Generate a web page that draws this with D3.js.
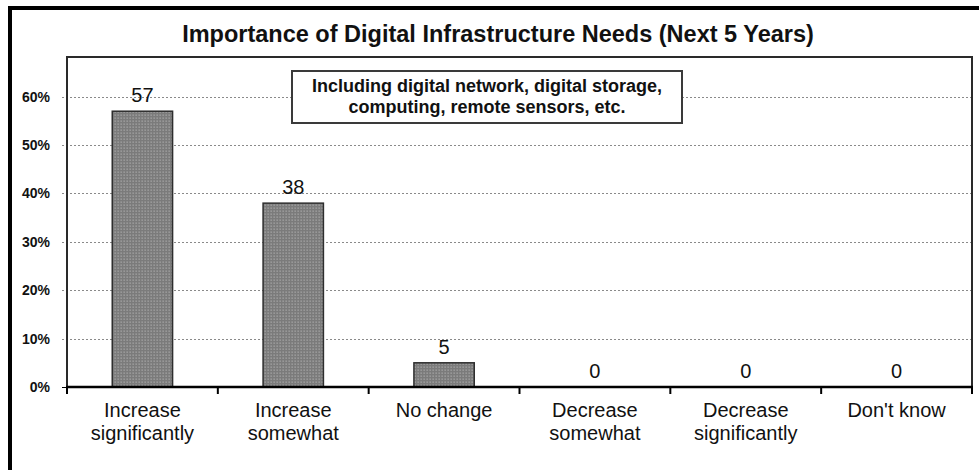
<!DOCTYPE html>
<html>
<head>
<meta charset="utf-8">
<script src="https://cdn.jsdelivr.net/npm/d3@7"></script>
<style>
  html, body { margin: 0; padding: 0; background: #fff; }
  svg { display: block; font-family: "Liberation Sans", Arial, sans-serif; }
</style>
</head>
<body>
<svg id="chart" width="979" height="470"></svg>
<script>
// Survey responses (percent of respondents)
const categories = [
  ["Increase", "significantly"],
  ["Increase", "somewhat"],
  ["No change"],
  ["Decrease", "somewhat"],
  ["Decrease", "significantly"],
  ["Don't know"]
];
const values = [57, 38, 5, 0, 0, 0];
const yTicks = [0, 10, 20, 30, 40, 50, 60];
const titleText = "Importance of Digital Infrastructure Needs (Next 5 Years)";
const noteLines = ["Including digital network, digital storage,", "computing, remote sensors, etc."];

const svg = d3.select("#chart");

// Plot frame
const plot = { left: 67, right: 972, top: 57, bottom: 387 };

const x = d3.scaleBand()
  .domain(d3.range(categories.length))
  .range([plot.left, plot.right])
  .paddingInner(0)
  .paddingOuter(0);

const y = d3.scaleLinear()
  .domain([0, 60])
  .range([plot.bottom, 96.7]);

// Dotted fill for the bars
const defs = svg.append("defs");
const pat = defs.append("pattern")
  .attr("id", "dots")
  .attr("patternUnits", "userSpaceOnUse")
  .attr("width", 3).attr("height", 3);
pat.append("rect").attr("width", 3).attr("height", 3).attr("fill", "#7b7b7b");
pat.append("rect").attr("x", 0.5).attr("y", 0.5).attr("width", 1.3).attr("height", 1.3).attr("fill", "#a9a9a9");

// Outer border
svg.append("rect")
  .attr("x", 10).attr("y", 8)
  .attr("width", 1000).attr("height", 500)
  .attr("fill", "#fff")
  .attr("stroke", "#000")
  .attr("stroke-width", 4);

// Title
svg.append("text")
  .attr("x", 498).attr("y", 42)
  .attr("text-anchor", "middle")
  .attr("font-weight", "bold")
  .attr("font-size", 23.5)
  .attr("fill", "#111")
  .text(titleText);

// Horizontal gridlines (dotted), starting just left of the axis
svg.append("g")
  .selectAll("line")
  .data(yTicks.filter(d => d > 0))
  .join("line")
  .attr("x1", plot.left - 5).attr("x2", plot.right)
  .attr("y1", d => Math.round(y(d)) + 0.5).attr("y2", d => Math.round(y(d)) + 0.5)
  .attr("stroke", "#8a8a8a")
  .attr("stroke-width", 1)
  .attr("stroke-dasharray", "2,2");

// Y axis labels
const yAxis = d3.axisLeft(y)
  .tickValues(yTicks)
  .tickFormat(d => d + "%")
  .tickSize(5)
  .tickPadding(12);
const gy = svg.append("g")
  .attr("transform", `translate(${plot.left},0)`)
  .call(yAxis);
gy.select(".domain").remove();
gy.selectAll(".tick line").attr("stroke", "#000").attr("stroke-width", 1).attr("opacity", d => d === 0 ? 1 : 0);
gy.selectAll(".tick text")
  .attr("font-family", "Liberation Sans, Arial, sans-serif")
  .attr("font-weight", "bold")
  .attr("font-size", 14)
  .attr("fill", "#111");

// Plot frame (left, top, right)
svg.append("path")
  .attr("d", `M${plot.left},${plot.bottom} V${plot.top} H${plot.right} V${plot.bottom}`)
  .attr("fill", "none")
  .attr("stroke", "#2a2a2a")
  .attr("stroke-width", 2);

// Bars
const barW = x.bandwidth() * 0.4;
svg.append("g")
  .selectAll("rect")
  .data(values.map((v, i) => ({ v, i })).filter(d => d.v > 0))
  .join("rect")
  .attr("x", d => x(d.i) + (x.bandwidth() - barW) / 2)
  .attr("width", barW)
  .attr("y", d => y(d.v))
  .attr("height", d => y(0) - y(d.v))
  .attr("fill", "url(#dots)")
  .attr("stroke", "#2e2e2e")
  .attr("stroke-width", 1.5);

// Value labels
svg.append("g")
  .selectAll("text")
  .data(values)
  .join("text")
  .attr("x", (d, i) => x(i) + x.bandwidth() / 2)
  .attr("y", d => y(d) - 9)
  .attr("text-anchor", "middle")
  .attr("font-size", 20)
  .attr("fill", "#111")
  .text(d => d);

// X axis line with ticks at category boundaries
const xAxis = d3.axisBottom(x).tickSize(0).tickFormat("");
const gx = svg.append("g")
  .attr("transform", `translate(0,${plot.bottom})`)
  .call(xAxis);
gx.select(".domain").remove();
gx.selectAll(".tick").remove();
gx.append("line")
  .attr("x1", plot.left - 1).attr("x2", plot.right + 1)
  .attr("y1", 0).attr("y2", 0)
  .attr("stroke", "#000").attr("stroke-width", 2.5);
gx.selectAll(".bound")
  .data(d3.range(categories.length + 1))
  .join("line")
  .attr("class", "bound")
  .attr("x1", i => i < categories.length ? x(i) : plot.right)
  .attr("x2", i => i < categories.length ? x(i) : plot.right)
  .attr("y1", 0).attr("y2", 7)
  .attr("stroke", "#000").attr("stroke-width", 2);

// Category labels
const cat = svg.append("g")
  .selectAll("text")
  .data(categories)
  .join("text")
  .attr("x", (d, i) => x(i) + x.bandwidth() / 2)
  .attr("y", 417)
  .attr("text-anchor", "middle")
  .attr("font-size", 20)
  .attr("fill", "#111");
cat.selectAll("tspan")
  .data(d => d)
  .join("tspan")
  .attr("x", function () { return d3.select(this.parentNode).attr("x"); })
  .attr("dy", (d, j) => j === 0 ? 0 : 23)
  .text(d => d);

// Note box
const note = svg.append("g");
note.append("rect")
  .attr("x", 292).attr("y", 71)
  .attr("width", 390).attr("height", 52)
  .attr("fill", "#fff")
  .attr("stroke", "#3a3a3a")
  .attr("stroke-width", 2);
note.append("text")
  .attr("text-anchor", "middle")
  .attr("font-weight", "bold")
  .attr("font-size", 18)
  .attr("fill", "#111")
  .selectAll("tspan")
  .data(noteLines)
  .join("tspan")
  .attr("x", 487)
  .attr("y", (d, j) => 92 + j * 21)
  .text(d => d);
</script>
</body>
</html>
